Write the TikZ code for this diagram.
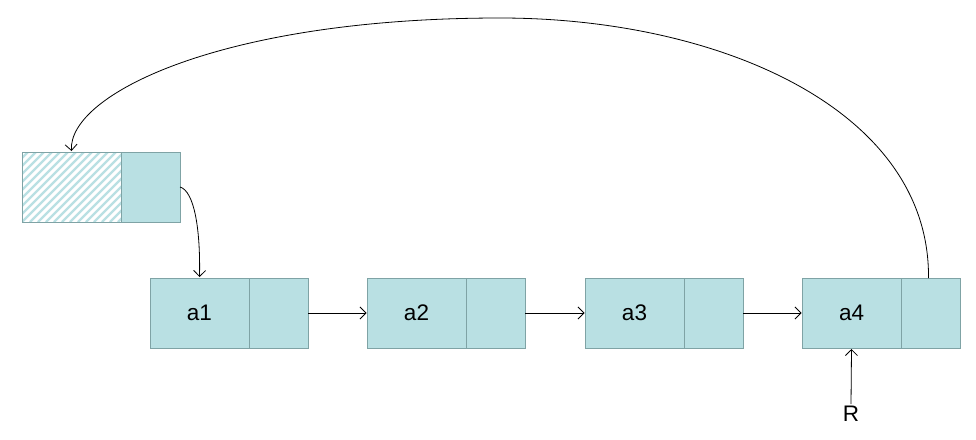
\documentclass[tikz,border=0pt]{standalone}
\usepackage{fontspec}
\setmainfont{Liberation Sans}
\usetikzlibrary{arrows.meta}
\definecolor{cellfill}{HTML}{B9E0E3}
\definecolor{celledge}{HTML}{7FA3A5}
\begin{document}
\begin{tikzpicture}[x=1pt,y=-1pt,
  cell/.style={draw=celledge,line width=0.8pt,fill=cellfill,anchor=north west,
    minimum height=70pt,inner sep=0pt,outer sep=0pt,font=\fontsize{22.5}{26}\selectfont},
  datacell/.style={cell,minimum width=99pt},
  ptrcell/.style={cell,minimum width=59pt},
  link/.style={draw=black,line width=0.8pt,-{Straight Barb[length=6pt,width=12pt,line width=0.8pt]}}]
\useasboundingbox (0,0) rectangle (976,439);
% header node
\node[datacell,fill=white] (h) at (22,152) {};
\begin{scope}
  \clip (22,152) rectangle (121,222);
  \foreach \i in {-80,-72,...,110}
    \draw[cellfill,line width=2.2pt] (22+\i,222) -- (22+\i+70,152);
\end{scope}
\draw[celledge,line width=0.8pt] (22,152) rectangle (121,222);
\node[ptrcell] (hp) at (121,152) {};
% list nodes
\node[datacell] (a1) at (150,278) {a1};
\node[ptrcell] (a1p) at (249,278) {};
\node[datacell] (a2) at (367,278) {a2};
\node[ptrcell] (a2p) at (466,278) {};
\node[datacell] (a3) at (585,278) {a3};
\node[ptrcell] (a3p) at (684,278) {};
\node[datacell] (a4) at (802,278) {a4};
\node[ptrcell] (a4p) at (901,278) {};
\node[font=\fontsize{22.5}{26}\selectfont,inner sep=2pt] (r) at (851,414) {R};
% links
\draw[link] (a1p.east) -- ([xshift=-0.5pt]a2.west);
\draw[link] (a2p.east) -- ([xshift=-0.5pt]a3.west);
\draw[link] (a3p.east) -- ([xshift=-0.5pt]a4.west);
\draw[link] (r.north) -- ([yshift=-1pt]a4.south);
\draw[link] (hp.east) .. controls ([xshift=14pt,yshift=-4pt]hp.east) and ([xshift=1pt,yshift=50pt]a1.north) .. ([yshift=1pt]a1.north);
\coordinate (peak) at (500,18);
\draw[link] ([xshift=-2pt]a4p.north) .. controls (930,110) and (720,18) .. (peak)
  .. controls (220,18) and (68,95) .. ([yshift=1pt]h.north);
\end{tikzpicture}
\end{document}
